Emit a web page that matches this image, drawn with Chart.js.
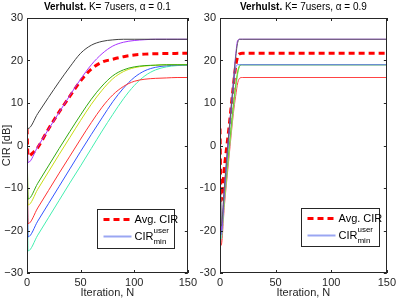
<!DOCTYPE html>
<html><head><meta charset="utf-8">
<script src="https://cdn.jsdelivr.net/npm/chart.js@4.4.0/dist/chart.umd.min.js"></script>
<style>
body{margin:0;background:#fff;width:399px;height:300px;overflow:hidden}
.box{position:absolute;top:0;height:300px}
</style></head><body>
<div class="box" style="left:0;width:200px"><canvas id="c1"></canvas></div>
<div class="box" style="left:200px;width:199px"><canvas id="c2"></canvas></div>
<script>
// alpha = 0.1 (left)
var leftN = [0,1,10,20,30,40,50,60,70,80,90,100,110,120,130,140,150];
var leftBlack  = [4,4,7.5,11.3,15,18.5,21.7,23.6,24.5,24.85,25,25,25,25,25,25,25];
var leftPurple = [4,-4,-0.3,3.8,7.8,11.8,15.6,19.0,21.6,23.4,24.3,24.7,24.9,25,25,25,25];
var leftGreen  = [4,-12.6,-8.9,-4.8,-0.7,3.3,7.2,10.9,14.0,16.4,17.8,18.5,18.8,18.9,19,19,19];
var leftYellow = [4,-14,-10.3,-6.2,-2.1,1.9,5.9,9.7,13.0,15.7,17.4,18.3,18.7,18.9,19,19,19];
var leftRed    = [4,-18.4,-14.7,-10.6,-6.5,-2.5,1.5,5.4,9.0,11.9,13.9,15.1,15.6,15.8,15.9,16,16];
var leftBlue   = [4,-21.5,-17.8,-13.7,-9.6,-5.5,-1.4,2.6,6.5,10.3,13.5,16.0,17.6,18.4,18.75,18.9,18.95];
var leftCyan   = [4,-24.8,-21.1,-17.0,-12.9,-8.8,-4.8,-0.7,3.4,7.3,11.0,14.1,16.4,17.8,18.5,18.8,18.9];
var leftAvgN   = [0,1,3,6,10,20,30,40,50,60,70,80,90,100,110,120,150];
var leftAvg    = [4,-2.5,-2.3,-1.6,-0.5,3.9,7.9,11.6,15.2,18,19.6,20.3,20.9,21.3,21.5,21.6,21.7];

// alpha = 0.9 (right)
var rightN = [0,1,4,8,12,14,16,18,20,150];
var rightBlack  = [4,-19,-9.5,3,14.5,20.5,24.3,25,25,25];
var rightPurple = [4,-20,-10,3,15,21,24.8,25,25,25];
var rightBlue   = [4,-21,-11,2,13.5,18.2,19,19,19,19];
var rightGreen  = [4,-20.5,-12,-1,9.5,14,17.5,18.9,19,19];
var rightYellow = [4,-21,-12.5,-1.5,9,13.5,17.2,18.8,19,19];
var rightCyan   = [4,-22,-13,-2,8.5,13,17,18.8,19,19];
var rightRed    = [4,-23.5,-14,-3,7.5,11.5,14.8,15.9,16,16];
var rightAvg    = [4,-13,-5,4,14,18.5,21,21.6,21.7,21.7];

var xTicks = [0,50,100,150];
var yTicks = [-30,-20,-10,0,10,20,30];

function pts(xs, ys){ return ys.map(function(v,i){ return {x:xs[i], y:v}; }); }
function line(xs, ys, color){
  return {data: pts(xs, ys), borderColor: color, borderWidth: 1, pointRadius: 0, cubicInterpolationMode: 'monotone'};
}
function avgLine(xs, ys){
  return {data: pts(xs, ys), borderColor: '#ff0000', borderWidth: 3, borderDash: [6,4], pointRadius: 0, cubicInterpolationMode: 'monotone'};
}

var FONT = '"Liberation Sans", Arial, sans-serif';

var boxPlugin = {
  id: 'matlabBox',
  afterDraw: function(chart, args, o){
    var ctx = chart.ctx, a = chart.chartArea, xs = chart.scales.x, ys = chart.scales.y;
    ctx.save();
    ctx.strokeStyle = '#262626'; ctx.lineWidth = 1;
    ctx.strokeRect(Math.round(a.left)+0.5, Math.round(a.top)+0.5, Math.round(a.right-a.left)-1, Math.round(a.bottom-a.top)-1);
    ctx.beginPath();
    xTicks.forEach(function(v){
      var p = Math.round(xs.getPixelForValue(v))+0.5;
      ctx.moveTo(p, a.bottom); ctx.lineTo(p, a.bottom-3);
      ctx.moveTo(p, a.top); ctx.lineTo(p, a.top+3);
    });
    yTicks.forEach(function(v){
      var p = Math.round(ys.getPixelForValue(v))+0.5;
      ctx.moveTo(a.left, p); ctx.lineTo(a.left+3, p);
      ctx.moveTo(a.right, p); ctx.lineTo(a.right-3, p);
    });
    ctx.stroke();

    // title: bold part + normal part
    ctx.fillStyle = '#000';
    ctx.textBaseline = 'middle';
    ctx.font = 'bold 10px ' + FONT;
    var w1 = ctx.measureText(o.titleBold).width;
    ctx.font = '10px ' + FONT;
    var w2 = ctx.measureText(o.title).width;
    var cx = (a.left + a.right)/2, x0 = cx - (w1+w2)/2;
    ctx.textAlign = 'left';
    ctx.font = 'bold 10px ' + FONT;
    ctx.fillText(o.titleBold, x0, 7);
    ctx.font = '10px ' + FONT;
    ctx.fillText(o.title, x0 + w1, 7);

    // axis labels
    ctx.fillStyle = '#262626';
    ctx.font = '11px ' + FONT;
    ctx.textAlign = 'center';
    ctx.fillText('Iteration, N', cx, 293);
    if (o.ylabel){
      ctx.save();
      ctx.translate(7, (a.top+a.bottom)/2);
      ctx.rotate(-Math.PI/2);
      ctx.fillText(o.ylabel, 0, 0);
      ctx.restore();
    }

    // legend
    var L = o.legend;
    var bx = Math.round(a.right - L.right - L.w)+0.5, by = Math.round(a.bottom - L.bottom - L.h)+0.5;
    ctx.fillStyle = '#fff';
    ctx.fillRect(bx, by, L.w, L.h);
    ctx.strokeStyle = '#262626'; ctx.lineWidth = 1;
    ctx.strokeRect(bx, by, L.w, L.h);
    var y1 = by + 10, y2 = by + 27;
    ctx.strokeStyle = '#ff0000'; ctx.lineWidth = 3; ctx.setLineDash([6,4]);
    ctx.beginPath(); ctx.moveTo(bx+6, y1); ctx.lineTo(bx+34, y1); ctx.stroke();
    ctx.setLineDash([]);
    ctx.strokeStyle = '#9aa6f2'; ctx.lineWidth = 2;
    ctx.beginPath(); ctx.moveTo(bx+6, y2); ctx.lineTo(bx+34, y2); ctx.stroke();
    ctx.fillStyle = '#000'; ctx.textAlign = 'left';
    ctx.font = '11px ' + FONT;
    ctx.fillText('Avg. CIR', bx+37, y1);
    ctx.fillText('CIR', bx+37, y2);
    var wc = ctx.measureText('CIR').width;
    ctx.font = '8px ' + FONT;
    ctx.fillText('user', bx+37+wc, y2-6);
    ctx.fillText('min', bx+37+wc, y2+5);
    ctx.restore();
  }
};

function makeChart(id, sets, yWidth, opts){
  return new Chart(document.getElementById(id), {
    type: 'line',
    data: {datasets: sets},
    options: {
      responsive: true, maintainAspectRatio: false, animation: false,
      layout: {padding: {top: 18, right: 10, left: 0, bottom: 0}},
      plugins: {legend: {display: false}, tooltip: {enabled: false}, matlabBox: opts},
      scales: {
        x: {type: 'linear', min: 0, max: 150,
            grid: {display: false, drawTicks: false}, border: {display: false},
            ticks: {stepSize: 50, padding: 3, color: '#262626', font: {size: 11, family: FONT}, maxRotation: 0},
            afterFit: function(s){ s.height = 27; }},
        y: {min: -30, max: 30,
            grid: {display: false, drawTicks: false}, border: {display: false},
            ticks: {stepSize: 10, padding: 4, color: '#262626', font: {size: 11, family: FONT},
                    callback: function(v){ return v < 0 ? '\u2212' + Math.abs(v) : '' + v; }},
            afterFit: function(s){ s.width = yWidth; }}
      }
    },
    plugins: [boxPlugin]
  });
}

makeChart('c1', [
  line(leftN, leftBlack, '#404040'),
  line(leftN, leftPurple, '#a733ff'),
  line(leftN, leftGreen, '#33aa11'),
  line(leftN, leftYellow, '#c8dc14'),
  line(leftN, leftRed, '#ff3333'),
  line(leftN, leftBlue, '#3355ff'),
  line(leftN, leftCyan, '#44eeb0'),
  avgLine(leftAvgN, leftAvg)
], 27, {titleBold: 'Verhulst.', title: ' K= 7users, \u03b1 = 0.1', ylabel: 'CIR [dB]',
        legend: {right: 14, bottom: 25, w: 77, h: 39}});

makeChart('c2', [
  line(rightN, rightBlack, '#606060'),
  line(rightN, rightPurple, '#a733ff'),
  line(rightN, rightBlue, '#6677ff'),
  line(rightN, rightGreen, '#66cc33'),
  line(rightN, rightYellow, '#c8e050'),
  line(rightN, rightCyan, '#66eebb'),
  line(rightN, rightRed, '#ff4444'),
  avgLine(rightN, rightAvg)
], 20, {titleBold: 'Verhulst.', title: ' K= 7users, \u03b1 = 0.9', ylabel: '',
        legend: {right: 8, bottom: 27, w: 78, h: 38}});
</script>
</body></html>
